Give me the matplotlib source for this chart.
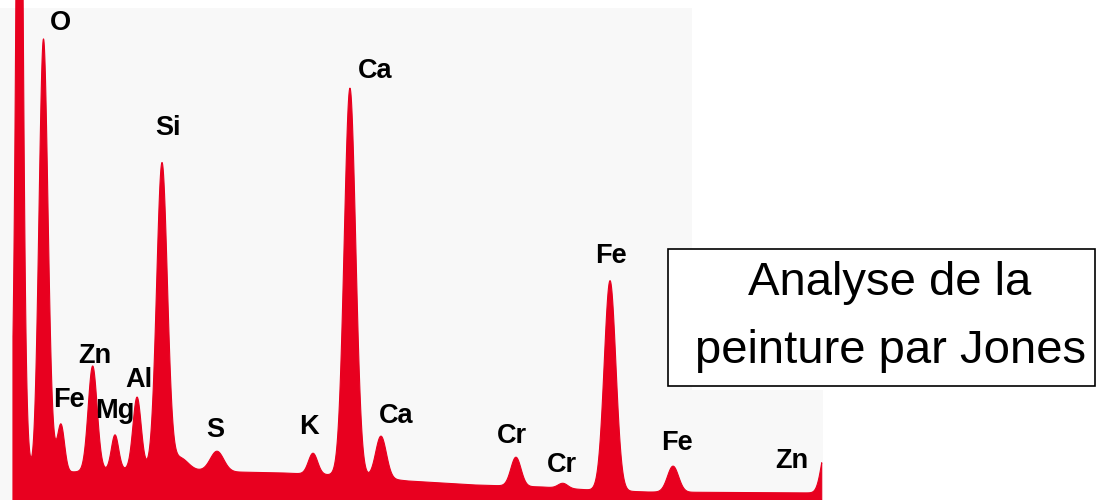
import numpy as np
import matplotlib
matplotlib.use("Agg")
import matplotlib.pyplot as plt
from matplotlib.patches import Rectangle

# ---- data (energy in keV, intensity in arbitrary counts) ----
peak_names = ["C", "C base", "O", "O sh", "Fe L", "Zn L", "Mg", "Al", "Si", "Si tail", "S",
              "K", "Ca Ka", "Ca Kb", "Cr Ka", "Cr Kb", "Fe Ka", "Fe Kb", "Zn Ka"]
peak_energy = [0.245, 0.245, 0.495, 0.594, 0.678, 1.008, 1.241, 1.471, 1.731, 1.918, 2.305,
               3.306, 3.691, 4.015, 5.422, 5.912, 6.403, 7.060, 8.660]
peak_amp = [700, 200, 438, 10, 48, 105, 35, 72, 306, 12, 20,
            21, 388, 42, 29, 5, 210, 26, 48]
peak_sigma = [0.031, 0.052, 0.047, 0.040, 0.037, 0.047, 0.038, 0.043, 0.056, 0.083, 0.070,
              0.048, 0.060, 0.056, 0.053, 0.050, 0.061, 0.058, 0.052]

bg_energy = [0.177, 0.35, 0.6, 0.8, 1.2, 1.5, 2.0, 2.5, 3.0, 3.5, 4.0, 4.3, 5.0, 5.7, 6.2, 6.8, 8.61]
bg_counts = [15, 18, 26, 28, 30, 31, 30, 28, 27, 25, 22, 19, 15, 13, 10, 8, 7]

spectrum_range = (0.177, 8.61)

labels = ["O", "Ca", "Si", "Zn", "Fe", "Mg", "Al", "S", "K", "Ca", "Cr", "Cr", "Fe", "Fe", "Zn"]
label_energy = [0.667, 3.952, 1.794, 1.027, 0.761, 1.241, 1.486, 2.284, 3.264, 4.171,
                5.381, 5.902, 6.413, 7.101, 8.300]
label_counts = [470, 422, 365, 137, 93, 82, 113, 63, 66, 77, 57, 28, 237, 50, 32]

title_lines = ["Analyse de la", "peinture par Jones"]

# ---- build spectrum ----
E = np.linspace(spectrum_range[0], spectrum_range[1], 4000)
counts = np.interp(E, bg_energy, bg_counts)
for c, a, s in zip(peak_energy, peak_amp, peak_sigma):
    counts = counts + a * np.exp(-(E - c) ** 2 / (2 * s ** 2))

W, H = 1097, 500
fig = plt.figure(figsize=(W / 100, H / 100), dpi=100)
fig.patch.set_facecolor("white")

# light grey panel behind the spectrum
panel = "#F8F8F8"
fig.patches.append(Rectangle((0, 0), 692 / W, (H - 8) / H, transform=fig.transFigure,
                             facecolor=panel, edgecolor="none", zorder=-2))
fig.patches.append(Rectangle((692 / W, 0), (823 - 692) / W, 110 / H, transform=fig.transFigure,
                             facecolor=panel, edgecolor="none", zorder=-2))

ax = fig.add_axes([0, 0, 1, 1], zorder=1)
ax.patch.set_alpha(0)
ax.set_xlim(4 / 95.9, (W + 4) / 95.9)
ax.set_ylim(0, 500)
ax.axis("off")

red = "#E8001F"
ax.fill_between(E, 0, counts, color=red, edgecolor=red, linewidth=0.8, zorder=2)

for t, x, y in zip(labels, label_energy, label_counts):
    ax.text(x, y, t, ha="center", va="baseline", fontsize=19.5, fontweight="bold",
            family="Liberation Sans", color="black", zorder=3)

# title box
fig.patches.append(Rectangle((668 / W, (H - 386) / H), (1095 - 668) / W, 137 / H,
                             transform=fig.transFigure, facecolor="white",
                             edgecolor="black", linewidth=1.2, zorder=4))
fig.text(890 / W, (H - 295) / H, title_lines[0], ha="center", va="baseline",
         fontsize=34, family="Liberation Sans", color="black", zorder=5)
fig.text(891 / W, (H - 363) / H, title_lines[1], ha="center", va="baseline",
         fontsize=34, family="Liberation Sans", color="black", zorder=5)

fig.savefig("out.png", dpi=100)
